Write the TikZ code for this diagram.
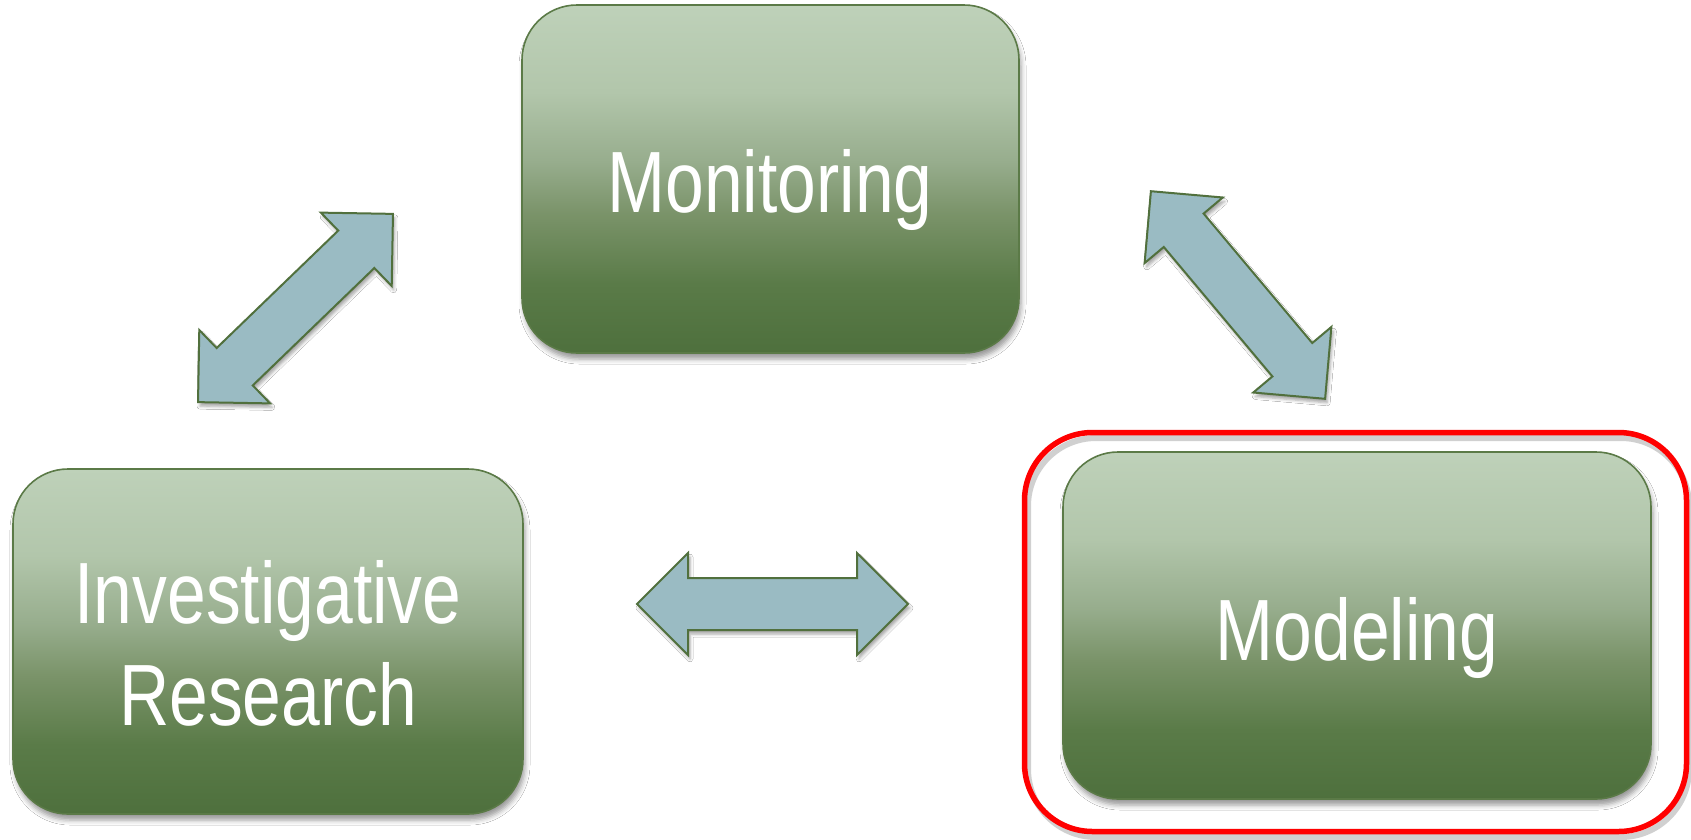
\documentclass[tikz,border=0pt]{standalone}
\usepackage{fontspec}
\newfontfamily\labelfont[FakeStretch=0.8]{Liberation Sans}
\usetikzlibrary{shapes.arrows,shadows.blur}

\definecolor{gfA}{HTML}{4E703D}
\definecolor{gfB}{HTML}{5A7B48}
\definecolor{gfC}{HTML}{7A9369}
\definecolor{gfD}{HTML}{97AD8D}
\definecolor{gfE}{HTML}{B2C6AB}
\definecolor{gfF}{HTML}{BED1B9}
\definecolor{boxedge}{HTML}{5B7A47}
\definecolor{arrowfill}{HTML}{9ABBC3}
\definecolor{arrowedge}{HTML}{51703D}
\definecolor{framered}{HTML}{FF0000}

% light sage at the top fading to dark green at the bottom
\pgfdeclareverticalshading{greenfade}{100bp}{%
  color(0bp)=(gfA); color(25bp)=(gfA); color(35bp)=(gfB);
  color(45bp)=(gfC); color(52.5bp)=(gfD); color(62.5bp)=(gfE);
  color(75bp)=(gfF); color(100bp)=(gfF)}

\tikzset{
  stage/.style={draw=boxedge, line width=1.6pt, rounded corners=55pt,
    shading=greenfade, inner sep=0pt,
    blur shadow={shadow xshift=2pt, shadow yshift=-6pt,
      shadow blur radius=5pt, shadow opacity=40}},
  stagetext/.style={text=white, inner sep=0pt, align=center,
    font=\labelfont\fontsize{87}{102}\selectfont},
  link/.style={double arrow, double arrow head extend=25pt,
    minimum width=100pt, minimum height=271pt,
    inner xsep=0pt, inner ysep=25pt,
    draw=arrowedge, line width=2pt, fill=arrowfill,
    blur shadow={shadow xshift=2pt, shadow yshift=-4pt,
      shadow blur radius=3pt, shadow opacity=35}},
  focus/.style={draw=framered, line width=5.5pt, rounded corners=68pt},
  focusshade/.style={draw=black!30, line width=6pt, rounded corners=68pt,
    opacity=0.6}
}

\begin{document}
\begin{tikzpicture}[x=1pt, y=-1pt]
  \fill[white] (0,0) rectangle (1691,839);
  \useasboundingbox (0,0) rectangle (1691,839);

  % highlight frame round the modeling stage
  \draw[focusshade] (1028,438) rectangle (1689,837);
  \draw[focus] (1024.5,432.5) rectangle (1686.5,831.5);

  % the three stages
  \node[stage, minimum width=497pt, minimum height=348pt] (monitoring) at (770.5,179) {};
  \node[stage, minimum width=510pt, minimum height=345pt] (research) at (268,641.5) {};
  \node[stage, minimum width=588pt, minimum height=347pt] (modeling) at (1357,625.5) {};

  \node[stagetext, anchor=base] (monitoringText) at (770,212) {Monitoring};
  \node[stagetext, anchor=base] (modelingText) at (1357,660) {Modeling};
  \node[stagetext] (researchText) at (268,643) {Investigative\\Research};

  % two-way links between the stages
  \node[link, rotate=44] (linkMR) at (295.5,308) {};
  \node[link, rotate=-50] (linkMM) at (1238,295) {};
  \node[link] (linkRM) at (772.5,604) {};
\end{tikzpicture}
\end{document}
